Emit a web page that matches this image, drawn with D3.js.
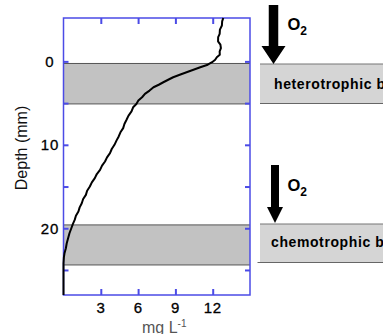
<!DOCTYPE html>
<html><head><meta charset="utf-8">
<script src="https://cdn.jsdelivr.net/npm/d3@7"></script>
<style>
html,body{margin:0;padding:0;background:#fff;}
svg{display:block;font-family:"Liberation Sans",Arial,sans-serif;}
</style></head>
<body><svg id="c" width="383" height="334"></svg>
<script>
// depth (mm) and dissolved O2 (mg L-1) profile
const depth = [-5.2,-4.8,-4.3,-3.8,-3.3,-2.9,-2.4,-2.0,-1.6,-1.2,-0.8,-0.5,-0.2,0.1,0.4,0.7,1.0,1.3,1.6,1.9,2.2,2.5,2.8,3.1,3.5,3.9,4.3,4.7,5.1,5.5,6.0,6.5,7.0,7.5,8.0,8.5,9.0,9.5,10.0,10.5,11.0,11.5,12.0,12.5,13.0,13.5,14.0,14.5,15.0,15.5,16.0,16.5,17.0,17.5,18.0,18.5,19.0,19.5,20.0,20.6,21.2,21.8,22.4,23.0,23.5,24.2,28];
const oxygen = [12.85,12.76,12.74,12.58,12.56,12.44,12.43,12.62,12.66,12.56,12.57,12.33,12.2,11.95,11.6,11.0,10.45,9.9,9.35,8.82,8.42,8.03,7.66,7.24,6.92,6.55,6.32,6.02,5.86,5.6,5.47,5.23,5.07,4.9,4.8,4.58,4.44,4.26,4.1,3.88,3.74,3.5,3.34,3.1,2.94,2.68,2.52,2.28,2.12,1.9,1.8,1.58,1.47,1.3,1.2,1.0,0.9,0.75,0.63,0.48,0.37,0.26,0.19,0.08,0.03,0,0];
// shaded zones (depth ranges, mm)
const bandTop = [0.25, 19.6];
const bandBottom = [5.1, 24.4];
const zoneLabels = ["heterotrophic b", "chemotrophic b"];
const xTicks = [3,6,9,12];
const yTicks = [0,5,10,15,20,25];
const yTickLabels = [0,10,20];
const xDomain = [0,15];
const yDomain = [-5.2,28];

const svg = d3.select("#c");
const L=63.5, R=250, T=18, B=295;
const x = d3.scaleLinear().domain(xDomain).range([L,R]);
const y = d3.scaleLinear().domain(yDomain).range([T,B]);
const blue = "#4b4be6";

// bands
svg.selectAll("rect.band").data(bandTop).enter().append("rect")
  .attr("x",L).attr("width",R-L)
  .attr("y",(d)=>y(d)).attr("height",(d,i)=>y(bandBottom[i])-y(d))
  .attr("fill","#c2c2c2");
bandTop.forEach((d,i)=>{
  [d,bandBottom[i]].forEach(v=>{
    svg.append("line").attr("x1",L).attr("x2",R).attr("y1",y(v)).attr("y2",y(v))
      .attr("stroke","#555").attr("stroke-width",1);
  });
});

// axes (ticks inward)
const gl = svg.append("g").attr("transform",`translate(${L},0)`).call(d3.axisRight(y).tickValues(yTicks).tickSize(5).tickFormat(""));
const gr = svg.append("g").attr("transform",`translate(${R},0)`).call(d3.axisLeft(y).tickValues(yTicks).tickSize(5).tickFormat(""));
const gt = svg.append("g").attr("transform",`translate(0,${T})`).call(d3.axisBottom(x).tickValues(xTicks).tickSize(6).tickFormat(""));
const gb = svg.append("g").attr("transform",`translate(0,${B})`).call(d3.axisTop(x).tickValues(xTicks).tickSize(6).tickFormat(""));
[gl,gr,gt,gb].forEach(g=>{
  g.selectAll("path.domain").remove();
  g.selectAll(".tick line").attr("stroke",blue).attr("stroke-width",2);
});

// frame
svg.append("rect").attr("x",L).attr("y",T).attr("width",R-L).attr("height",B-T)
  .attr("fill","none").attr("stroke",blue).attr("stroke-width",1.5);

// profile line
const line = d3.line().x((d,i)=>x(oxygen[i])).y(d=>y(d));
svg.append("path").datum(depth).attr("d",line)
  .attr("fill","none").attr("stroke","#000").attr("stroke-width",2).attr("stroke-linejoin","round");

// tick labels
svg.selectAll("text.yl").data(yTickLabels).enter().append("text")
  .attr("x",50).attr("y",d=>y(d)+5.5).attr("text-anchor","middle")
  .attr("font-size",15).attr("letter-spacing",1).attr("fill","#000")
  .attr("stroke","#000").attr("stroke-width",0.3).text(d=>d);
svg.selectAll("text.xl").data(xTicks).enter().append("text")
  .attr("x",d=>x(d)).attr("y",313).attr("text-anchor","middle")
  .attr("font-size",15).attr("letter-spacing",0.5).attr("fill","#000")
  .attr("stroke","#000").attr("stroke-width",0.3).text(d=>d);

// axis titles
svg.append("text").attr("transform","translate(27,148) rotate(-90)").attr("text-anchor","middle")
  .attr("font-size",16).attr("fill","#111").text("Depth (mm)");
const xt = svg.append("text").attr("x",142).attr("y",333).attr("font-size",16).attr("fill","#555");
xt.append("tspan").text("mg L");
xt.append("tspan").attr("dy",-6).attr("font-size",10).text("-1");

// right-side zone boxes
const boxTop = [64, 224], boxBot = [103.5, 262.5];
zoneLabels.forEach((lab,i)=>{
  svg.append("rect").attr("x",260).attr("y",boxTop[i]).attr("width",140).attr("height",boxBot[i]-boxTop[i]).attr("fill","#d5d5d5");
  svg.append("line").attr("x1",260).attr("x2",400).attr("y1",boxTop[i]).attr("y2",boxTop[i]).attr("stroke","#777").attr("stroke-width",1.2);
  svg.append("line").attr("x1",i===1?257.5:260).attr("x2",400).attr("y1",boxBot[i]).attr("y2",boxBot[i]).attr("stroke","#666").attr("stroke-width",1);
  svg.append("text").attr("x",i===0?274:271).attr("y",i===0?88.5:247).attr("font-size",14).attr("font-weight","bold")
    .attr("letter-spacing",0.6).attr("fill","#000").text(lab);
});

// arrows with O2
const arrows = [
  {cx:273.5, top:5, headTop:46, tip:64, sw:9.5, hw:24},
  {cx:275, top:165, headTop:207, tip:223, sw:8, hw:16}
];
const o2y = [30, 191];
arrows.forEach((a,i)=>{
  const p = d3.path();
  p.moveTo(a.cx-a.sw/2,a.top); p.lineTo(a.cx+a.sw/2,a.top); p.lineTo(a.cx+a.sw/2,a.headTop);
  p.lineTo(a.cx+a.hw/2,a.headTop); p.lineTo(a.cx,a.tip); p.lineTo(a.cx-a.hw/2,a.headTop);
  p.lineTo(a.cx-a.sw/2,a.headTop); p.closePath();
  svg.append("path").attr("d",p.toString()).attr("fill","#000");
  const t = svg.append("text").attr("x",287.5).attr("y",o2y[i]).attr("font-size",16.5).attr("font-weight","bold").attr("fill","#000");
  t.append("tspan").text("O");
  t.append("tspan").attr("dy",4.5).attr("font-size",12).text("2");
});
</script></body></html>
